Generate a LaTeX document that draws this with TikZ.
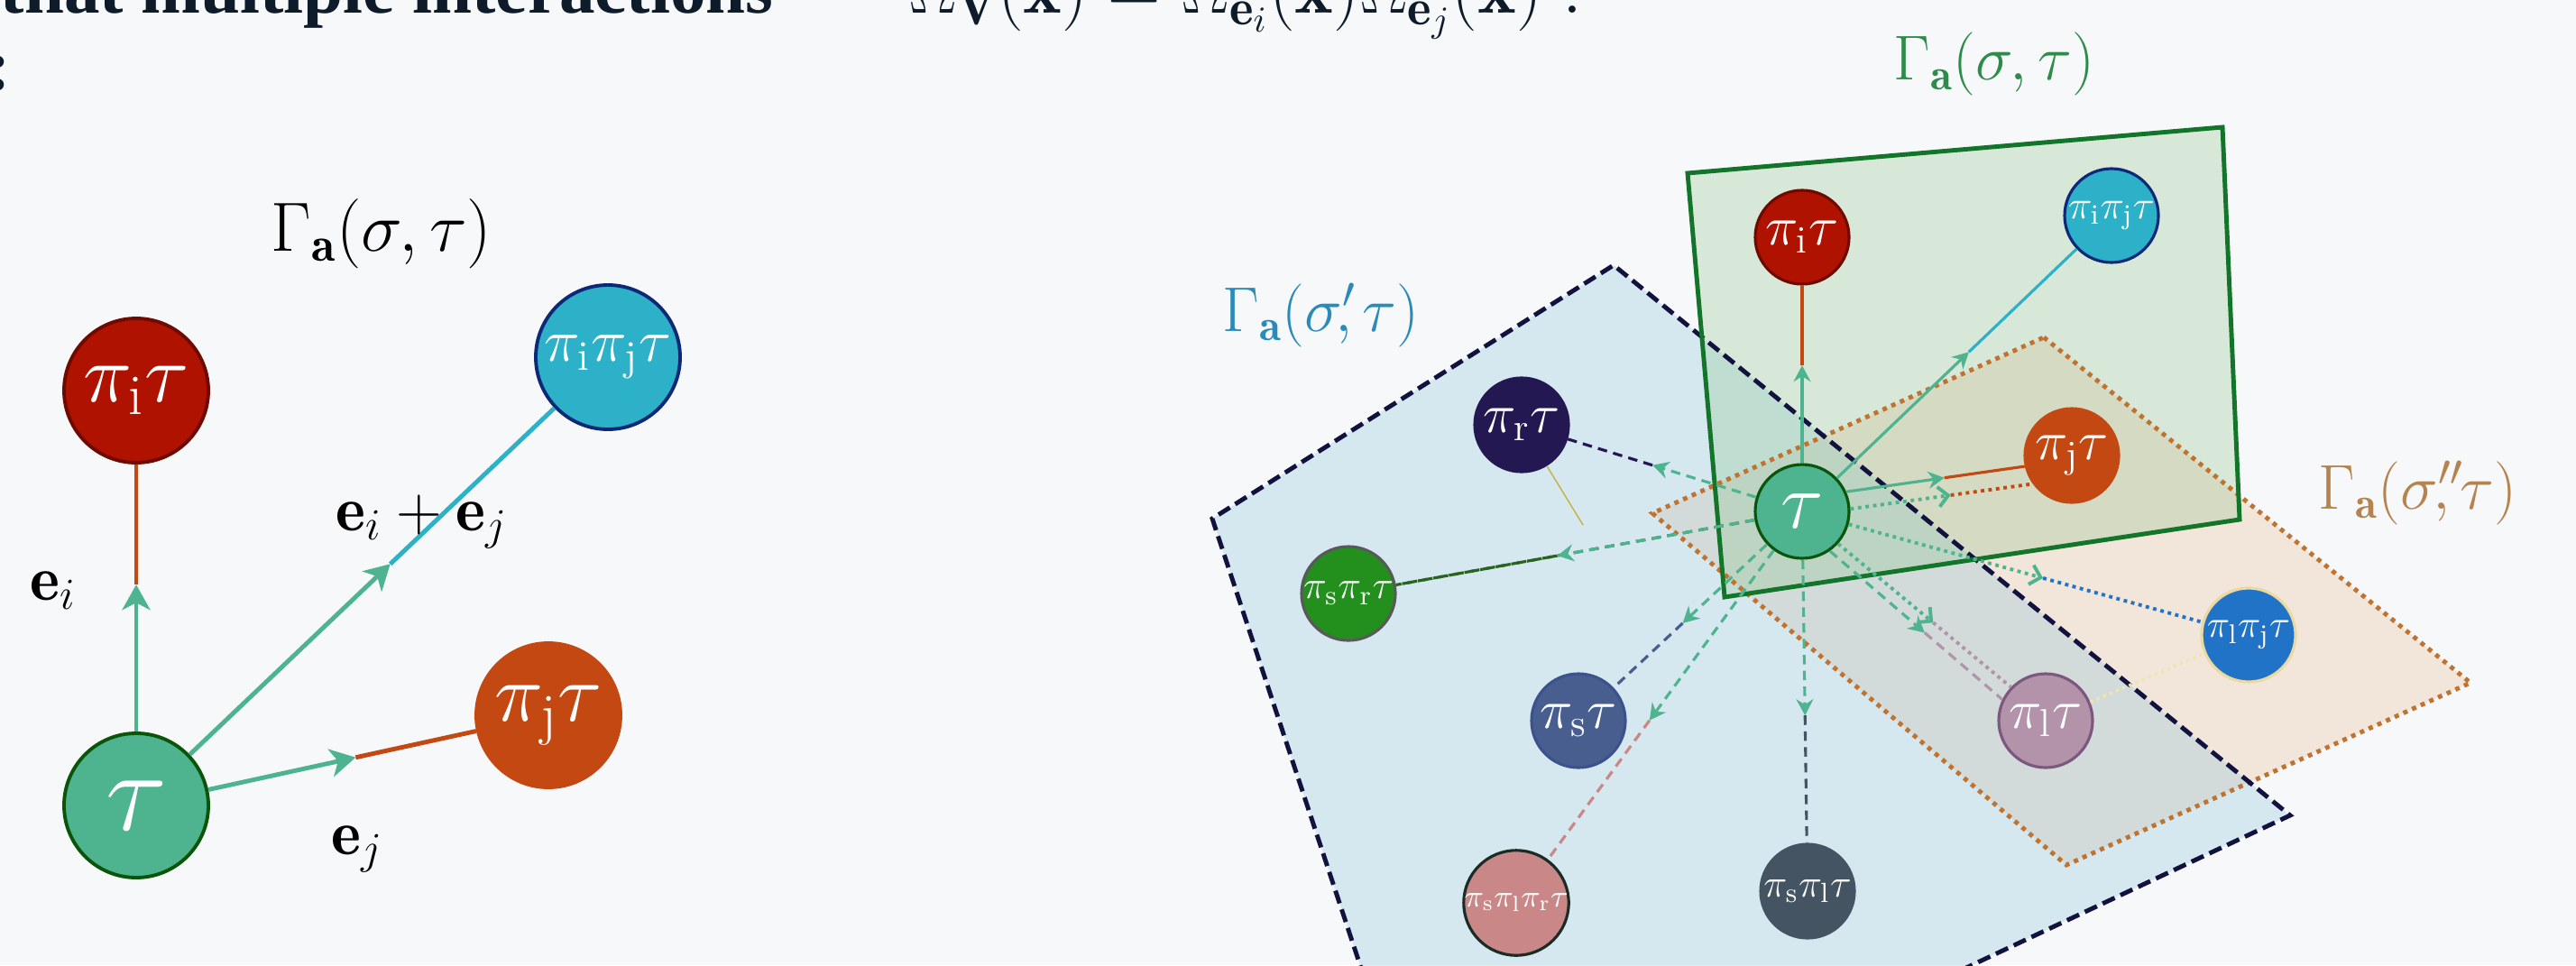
\RequirePackage{fix-cm}
\documentclass[tikz,border=0pt]{standalone}
\usepackage{amsmath}
\usepackage{fontspec}
\usepackage{tikz}
\usetikzlibrary{arrows.meta, calc, positioning}
\newfontfamily\headfont{Liberation Serif}

\definecolor{pagebg}     {RGB}{246, 248, 250}
\definecolor{headink}    {RGB}{ 13,  27,  42}
\definecolor{taugreen}   {RGB}{ 78, 179, 143}
\definecolor{taurim}     {RGB}{ 10,  85,  10}
\definecolor{pired}      {RGB}{176,  18,   0}
\definecolor{pirim}      {RGB}{110,  10,   0}
\definecolor{picyan}     {RGB}{ 44, 177, 200}
\definecolor{navyrim}    {RGB}{ 14,  40, 120}
\definecolor{pjorange}   {RGB}{196,  72,  18}
\definecolor{prindigo}   {RGB}{ 36,  24,  83}
\definecolor{psrgreen}   {RGB}{ 35, 144,  30}
\definecolor{psredge}    {RGB}{ 40, 100,  30}
\definecolor{pljblue}    {RGB}{ 32, 115, 198}
\definecolor{pljrim}     {RGB}{234, 217, 160}
\definecolor{psblue}     {RGB}{ 71,  94, 143}
\definecolor{psrim}      {RGB}{ 60,  82, 140}
\definecolor{plmauve}    {RGB}{178, 147, 170}
\definecolor{plrim}      {RGB}{124,  87, 127}
\definecolor{pslrpink}   {RGB}{201, 135, 135}
\definecolor{pslrrim}    {RGB}{ 27,  43,  38}
\definecolor{pslslate}   {RGB}{ 68,  84,  99}
\definecolor{plgreen}    {RGB}{146, 198, 143}
\definecolor{plblue}     {RGB}{139, 198, 217}
\definecolor{plorange}   {RGB}{236, 188, 143}
\definecolor{planegreen} {RGB}{ 18, 117,  42}
\definecolor{planeblue}  {RGB}{ 18,  18,  63}
\definecolor{planeorange}{RGB}{192, 115,  48}
\definecolor{labgreen}   {RGB}{ 46, 139,  74}
\definecolor{labblue}    {RGB}{ 42, 139, 184}
\definecolor{laborange}  {RGB}{181, 131,  78}
\definecolor{thinolive}  {RGB}{200, 176,  64}
\definecolor{paleyellow} {RGB}{238, 230, 176}

\tikzset{
	fs/.style={font=\fontsize{#1}{#1}\selectfont},
	state/.style={circle, draw, line width=0.9pt, text=white, inner sep=0pt, minimum size=1.04cm},
	bigstate/.style={state, line width=1.1pt, minimum size=1.6cm},
	lab/.style={anchor=base west, inner sep=0pt, fs=20},
	headtxt/.style={anchor=base west, inner sep=0pt, text=headink, fs=22.5},
	bold edge/.style={line width=1.4pt},
	edge/.style={line width=0.9pt},
	dsh/.style={dash pattern=on 3pt off 2pt},
	dts/.style={line width=1.1pt, dash pattern=on 1.1pt off 1.3pt},
	stl/.style={-{Stealth[length=1.8mm, width=1.9mm, inset=0.6mm]}},
	brb/.style={-{Straight Barb[length=1.1mm, width=2.2mm]}},
	bigstl/.style={-{Stealth[length=2.8mm, width=3.1mm, inset=0.8mm]}}
}

\begin{document}
\begin{tikzpicture}
\useasboundingbox (0,0) rectangle (28.56,10.70);
\fill[pagebg] (0,0) rectangle (28.56,10.70);
\clip (0,0) rectangle (28.56,10.70);

% slide text cut by the frame
\node[headtxt] (head) at (0,10.55) {\headfont\bfseries that multiple interactions};
\node[headtxt] (colon) at (-0.15,9.70) {\headfont\bfseries :};
\node[headtxt, fs=23] (eqn) at (10.07,10.55)
	{$\Omega_{\mathbf{V}}(\mathbf{x}) = \Omega_{\mathbf{e}_i}(\mathbf{x})\Omega_{\mathbf{e}_j}(\mathbf{x})\;.$};

% ---- left: one interaction
\node[bigstate, fill=taugreen, draw=taurim, fs=36] (ltau) at (1.51,1.77) {$\tau$};
\node[bigstate, fill=pired, draw=pirim, fs=26] (lpi) at (1.51,6.37) {$\pi_{\mathrm{i}}\tau$};
\node[bigstate, fill=picyan, draw=navyrim, fs=19] (lpij) at (6.74,6.74) {$\pi_{\mathrm{i}}\pi_{\mathrm{j}}\tau$};
\node[bigstate, fill=pjorange, draw=pjorange, fs=26] (lpj) at (6.08,2.77) {$\pi_{\mathrm{j}}\tau$};

\foreach \dst/\col in {lpi/pjorange, lpij/picyan, lpj/pjorange}{
	\path (ltau) -- (\dst) coordinate[pos=0.55] (m);
	\draw[bold edge, \col] (m) -- (\dst);
	\draw[bold edge, taugreen, bigstl] (ltau) -- (m);
}

\node[lab, fs=22] (lgam) at (3.00,7.92) {$\Gamma_{\mathbf{a}}(\sigma,\tau)$};
\node[lab] (lei) at (0.33,4.05) {$\mathbf{e}_i$};
\node[lab] (leij) at (3.72,4.82) {$\mathbf{e}_i+\mathbf{e}_j$};
\node[lab] (lej) at (3.67,1.23) {$\mathbf{e}_j$};

% ---- right: three planes
\fill[plorange, fill opacity=0.3] (22.66,6.96) -- (27.39,3.13) -- (22.91,1.11) -- (18.32,5.01) -- cycle;
\fill[plblue, fill opacity=0.3] (17.89,7.76) -- (13.44,4.95) -- (15.40,-0.97) -- (19.80,-0.97) -- (25.39,1.66) -- cycle;
\fill[plgreen, fill opacity=0.3] (18.71,8.78) -- (24.64,9.29) -- (24.83,4.94) -- (19.12,4.08) -- cycle;
\draw[planeorange, line width=1.4pt, dash pattern=on 1.4pt off 1.6pt]
	(22.66,6.96) -- (27.39,3.13) -- (22.91,1.11) -- (18.32,5.01) -- cycle;
\draw[planeblue, line width=1.4pt, dash pattern=on 4.2pt off 2pt]
	(15.40,-0.97) -- (13.44,4.95) -- (17.89,7.76) -- (25.39,1.66) -- (19.80,-0.97);
\draw[planegreen, line width=1.4pt]
	(18.71,8.78) -- (24.64,9.29) -- (24.83,4.94) -- (19.12,4.08) -- cycle;

\node[lab, labgreen] (ggam) at (20.99,9.81) {$\Gamma_{\mathbf{a}}(\sigma,\tau)$};
\node[lab, labblue] (bgam) at (13.55,7.03) {$\Gamma_{\mathbf{a}}(\sigma'\!\!,\tau)$};
\node[lab, laborange] (ogam) at (25.70,5.06) {$\Gamma_{\mathbf{a}}(\sigma''\!\!\!,\tau)$};

% ---- right: states
\node[state, fill=taugreen, draw=taurim, fs=25] (tau) at (19.98,5.03) {$\tau$};
\node[state, fill=pired, draw=pirim, fs=17.5] (pi) at (19.98,8.07) {$\pi_{\mathrm{i}}\tau$};
\node[state, fill=picyan, draw=navyrim, fs=12.7] (pij) at (23.41,8.31) {$\pi_{\mathrm{i}}\pi_{\mathrm{j}}\tau$};
\node[state, fill=prindigo, draw=prindigo, fs=17.5] (pr) at (16.87,5.99) {$\pi_{\mathrm{r}}\tau$};
\node[state, fill=pjorange, draw=pjorange, fs=17.5] (pj) at (22.97,5.65) {$\pi_{\mathrm{j}}\tau$};
\node[state, fill=psrgreen, draw=black!65, fs=12.4] (psr) at (14.95,4.12) {$\pi_{\mathrm{s}}\pi_{\mathrm{r}}\tau$};
\node[state, fill=pljblue, draw=pljrim, fs=12.2] (plj) at (24.93,3.66) {$\pi_{\mathrm{l}}\pi_{\mathrm{j}}\tau$};
\node[state, fill=psblue, draw=psrim, fs=17.5] (ps) at (17.50,2.71) {$\pi_{\mathrm{s}}\tau$};
\node[state, fill=plmauve, draw=plrim, fs=17.5] (pl) at (22.68,2.71) {$\pi_{\mathrm{l}}\tau$};
\node[state, fill=pslrpink, draw=pslrrim, fs=9.8] (pslr) at (16.81,0.69) {$\pi_{\mathrm{s}}\pi_{\mathrm{l}}\pi_{\mathrm{r}}\tau$};
\node[state, fill=pslslate, draw=pslslate, fs=12.5] (psl) at (20.04,0.82) {$\pi_{\mathrm{s}}\pi_{\mathrm{l}}\tau$};

% ---- right: moves out of tau
\draw[edge, dsh, psredge] (tau) -- (psr);
\foreach \src/\dst/\col/\pat/\tip in {
	tau/pi/pjorange/solid/stl, tau/pij/picyan/solid/stl,
	tau.24/pj.193/pjorange/solid/stl, tau.3/pj.216/pjorange/dts/brb,
	tau/plj/pljblue/dts/brb,
	tau.305/pl.154/plmauve/dsh/stl, tau.318/pl.136/plmauve/dts/brb,
	tau/psl/pslslate/dsh/stl, tau/pslr/pslrpink/dsh/stl,
	tau/ps/psblue/dsh/stl, tau/psr/psredge/dsh/stl, tau/pr/prindigo/dsh/stl}{
	\path (\src) -- (\dst) coordinate[pos=0.55] (m);
	\draw[edge, \pat, \col] (m) -- (\dst);
	\draw[edge, \pat, taugreen, \tip] (\src) -- (m);
}

\coordinate (prtail) at ($(pr)!0.215!(psl)$);
\draw[thinolive, line width=0.4pt] (pr) -- (prtail);
\draw[paleyellow, line width=0.9pt, dash pattern=on 1pt off 1.2pt] (pl) -- (plj);
\end{tikzpicture}
\end{document}
